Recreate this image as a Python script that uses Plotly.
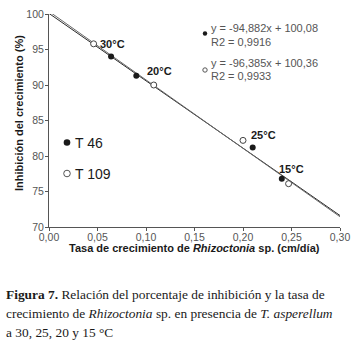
import plotly.graph_objects as go

# Data
temps = ["30°C", "20°C", "25°C", "15°C"]
t46_x = [0.064, 0.090, 0.210, 0.240]
t46_y = [94.0, 91.3, 81.2, 76.8]
t109_x = [0.046, 0.108, 0.200, 0.247]
t109_y = [95.8, 90.0, 82.2, 76.1]
fit46 = (-94.882, 100.08)
fit109 = (-96.385, 100.36)
line_x = [0.0, 0.30]
x_ticks = [0.0, 0.05, 0.10, 0.15, 0.20, 0.25, 0.30]
x_tick_labels = ["0,00", "0,05", "0,10", "0,15", "0,20", "0,25", "0,30"]
y_ticks = [70, 75, 80, 85, 90, 95, 100]

W, H = 364, 340
L, R, T, B = 49, 340, 14, 227


def px(x):
    return (x - L) / (R - L)


def py(y):
    return (B - y) / (B - T)


FONT = "Liberation Sans"
SERIF = "Liberation Serif"

fig = go.Figure()

for (m, b), col in [(fit46, "#2a2a2a"), (fit109, "#6a6a6a")]:
    fig.add_trace(go.Scatter(
        x=line_x, y=[m * x + b for x in line_x], mode="lines",
        line=dict(color=col, width=1), showlegend=False, hoverinfo="skip"))

fig.add_trace(go.Scatter(
    x=t46_x, y=t46_y, mode="markers",
    marker=dict(size=6, color="#1a1a1a", line=dict(width=0)),
    showlegend=False))
fig.add_trace(go.Scatter(
    x=t109_x, y=t109_y, mode="markers",
    marker=dict(size=6, color="white", line=dict(width=1, color="#444444")),
    showlegend=False))

label_pos = {"30°C": (0.052, 95.8), "20°C": (0.0998, 92.0), "25°C": (0.207, 83.0), "15°C": (0.236, 78.2)}
anns = []
for t in temps:
    x, y = label_pos[t]
    anns.append(dict(x=x, y=y, xref="x", yref="y", text="<b>" + t + "</b>", showarrow=False,
                     xanchor="left", yanchor="middle", xshift=-1,
                     font=dict(family=FONT, size=11, color="#1a1a1a")))

# Equation texts
eq_font = dict(family=FONT, size=11, color="#555555")
for (yline1, txt1), (yline2, txt2) in [((28, "y = -94,882x + 100,08"), (42, "R2 = 0,9916")),
                                         ((63, "y = -96,385x + 100,36"), (76, "R2 = 0,9933"))]:
    anns.append(dict(x=px(209), y=py(yline1), xref="paper", yref="paper", text=txt1,
                     showarrow=False, xanchor="left", yanchor="middle", font=eq_font))
    anns.append(dict(x=px(209), y=py(yline2), xref="paper", yref="paper", text=txt2,
                     showarrow=False, xanchor="left", yanchor="middle", font=eq_font))

# Legend texts
leg_font = dict(family=FONT, size=14, color="#1a1a1a")
anns.append(dict(x=px(73), y=py(142.5), xref="paper", yref="paper", text="T 46",
                 showarrow=False, xanchor="left", yanchor="middle", font=leg_font))
anns.append(dict(x=px(73), y=py(173.5), xref="paper", yref="paper", text="T 109",
                 showarrow=False, xanchor="left", yanchor="middle", font=leg_font))

# Caption
cap_font = dict(family=SERIF, size=13.4, color="#1a1a1a")
caption = [
    (294, "<b>Figura 7.</b> Relación del porcentaje de inhibición y la tasa de"),
    (313, "crecimiento de <i>Rhizoctonia</i> sp. en presencia de <i>T. asperellum</i>"),
    (332, "a 30, 25, 20 y 15 °C"),
]
for yy, txt in caption:
    anns.append(dict(x=px(4), y=py(yy), xref="paper", yref="paper", text=txt,
                     showarrow=False, xanchor="left", yanchor="middle", font=cap_font))

# Axis titles (placed manually)
anns.append(dict(x=px(194.5), y=py(248), xref="paper", yref="paper",
                 text="<b>Tasa de crecimiento de <i>Rhizoctonia</i> sp. (cm/día)</b>",
                 showarrow=False, xanchor="center", yanchor="middle",
                 font=dict(family=FONT, size=11, color="#1a1a1a")))
anns.append(dict(x=px(19), y=py(113), xref="paper", yref="paper",
                 text="<b>Inhibición del crecimiento (%)</b>", textangle=-90,
                 showarrow=False, xanchor="center", yanchor="middle",
                 font=dict(family=FONT, size=11, color="#1a1a1a")))

shapes = []


def circ(cx, cy, r, fill, line):
    return dict(type="circle", xref="paper", yref="paper",
                x0=px(cx - r), x1=px(cx + r), y0=py(cy + r), y1=py(cy - r),
                fillcolor=fill, line=dict(color=line, width=1 if fill == "white" else 0))


shapes.append(circ(205, 33.5, 2.2, "#1a1a1a", "#1a1a1a"))
shapes.append(circ(205, 70, 2.2, "white", "#555555"))
shapes.append(circ(67, 142.5, 3.3, "#1a1a1a", "#1a1a1a"))
shapes.append(circ(67, 173.5, 3.3, "white", "#555555"))

axis_common = dict(showgrid=False, zeroline=False, showline=True, linecolor="#555555",
                   linewidth=1, ticks="outside", ticklen=3, tickcolor="#555555",
                   automargin=False,
                   tickfont=dict(family=FONT, size=10.5, color="#555555"))

fig.update_layout(
    template="none",
    width=W, height=H,
    margin=dict(l=L, r=W - R, t=T, b=H - B, autoexpand=False),
    paper_bgcolor="white", plot_bgcolor="white",
    font=dict(family=FONT),
    showlegend=False,
    xaxis=dict(range=[0, 0.30], tickvals=x_ticks, ticktext=x_tick_labels,
               ticklabelstandoff=-3, **axis_common),
    yaxis=dict(range=[70, 100], tickvals=y_ticks, ticklabelstandoff=-1, **axis_common),
    annotations=anns,
    shapes=shapes,
)

fig.write_html("out.html", config={"displayModeBar": False},
               post_script="document.body.style.margin='0';document.body.style.overflow='hidden';")
